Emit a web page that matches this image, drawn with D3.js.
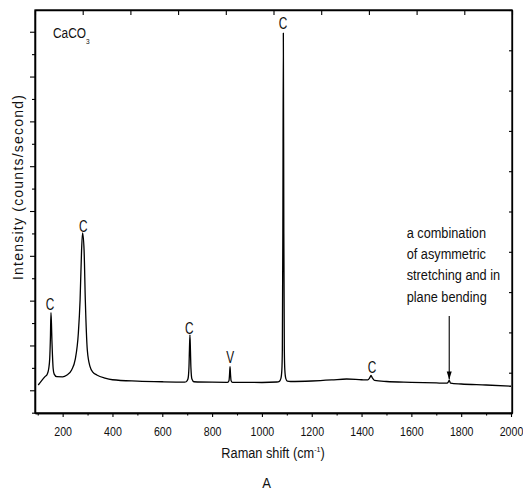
<!DOCTYPE html>
<html><head><meta charset="utf-8">
<script src="https://cdn.jsdelivr.net/npm/d3@7"></script>
<style>
body{margin:0;background:#fff;}
svg text{font-family:"Liberation Sans Narrow","Arial Narrow","Liberation Sans",Arial,sans-serif;fill:#111;}
</style></head><body>
<svg id="c" width="523" height="491"></svg>
<script>
// Raman spectrum of CaCO3 (arbitrary intensity units)
const shift = [102,115,129,138,144,148,151,153,155,157,159,162,166,176,200,216,236,250,263,270,276,280,286,291,299,310,322,337,370,400,500,600,690,
  696,703,707,709,711,713,715,719,727,800,862,868,870,872,874,876,882,1000,1060,1070,1076,1080,1082,1084,1086,1088,1090,1092,1096,1102,1115,
  1200,1280,1340,1400,1425,1433,1438,1443,1452,1500,1600,1700,1740,1747,1752,1757,1800,1900,2000];
const intensity = [118,210,303,360,480,700,1200,1731,1500,1100,800,480,360,303,300,335,453,676,1272,2014,3130,3510,3130,2014,900,527,400,341,270,235,205,190,183,
  190,250,500,900,1235,900,500,250,190,180,178,220,350,526,350,220,175,174,185,200,260,450,900,3500,7971,3500,900,450,260,205,196,
  207,230,252,235,230,280,330,280,220,196,178,163,158,175,220,160,140,118,90];

const xTickValues = [200,400,600,800,1000,1200,1400,1600,1800,2000];
const xMinorValues = [100,300,500,700,900,1100,1300,1500,1700,1900];
const yMajorValues = [0,1000,2000,3000,4000,5000,6000,7000,8000];
const yMinorValues = [-500,500,1500,2500,3500,4500,5500,6500,7500];

const peakLabels = ["C","C","C","V","C","C"];
const peakLabelX = [149,283,708,873,1085,1442];
const peakLabelY = [1791,3526,1256,602,8054,393];

const noteLines = [" a combination","of asymmetric","stretching and in","plane bending"];
const noteX = 1581, noteY = 3391;
const arrowX = 1752, arrowTop = 1658, arrowBottom = 241;

const L = 35, R = 512, T = 10, B = 413;
const svg = d3.select("#c");
const x = d3.scaleLinear().domain([89, 2004]).range([L, R]);
const y = d3.scaleLinear().domain([-507, 8485]).range([B, T]);
const xTop = d3.scaleLinear().domain([0, 10]).range([L, R]);
const yRight = d3.scaleLinear().domain([0, 10]).range([B, T]);

// place a horizontally condensed text
function ctext(px, py, s, size, anchor) {
  return svg.append("text").attr("transform",`translate(${px},${py}) scale(${s},1)`)
    .attr("font-size",size).attr("text-anchor",anchor||"start");
}

// bottom
const gB = svg.append("g").attr("transform",`translate(0,${B})`)
  .call(d3.axisBottom(x).tickValues(xTickValues).tickSize(4).tickSizeOuter(0).tickPadding(10).tickFormat(d3.format("d")));
svg.append("g").attr("transform",`translate(0,${B})`)
  .call(d3.axisBottom(x).tickValues(xMinorValues).tickSize(2.5).tickSizeOuter(0).tickFormat(""));
// left
svg.append("g").attr("transform",`translate(${L},0)`)
  .call(d3.axisLeft(y).tickValues(yMajorValues).tickSize(5).tickSizeOuter(0).tickFormat(""));
svg.append("g").attr("transform",`translate(${L},0)`)
  .call(d3.axisLeft(y).tickValues(yMinorValues).tickSize(3).tickSizeOuter(0).tickFormat(""));
// top (inward)
svg.append("g").attr("transform",`translate(0,${T})`)
  .call(d3.axisTop(xTop).ticks(10).tickSize(-5).tickSizeOuter(0).tickFormat(""));
// right (inward)
svg.append("g").attr("transform",`translate(${R},0)`)
  .call(d3.axisRight(yRight).ticks(10).tickSize(-3).tickSizeOuter(0).tickFormat(""));

svg.selectAll(".domain").attr("stroke","#000").attr("stroke-width",1.3);
svg.selectAll(".tick line").attr("stroke","#000").attr("stroke-width",1.1);
gB.selectAll(".tick text").attr("font-size",12.5).attr("font-family",null).attr("fill","#111")
  .attr("transform","scale(0.85,1)");

// frame
svg.append("rect").attr("x",L).attr("y",T).attr("width",R-L).attr("height",B-T)
  .attr("fill","none").attr("stroke","#000").attr("stroke-width",1.3);

// spectrum
const data = shift.map((s,i)=>[s,intensity[i]]);
svg.append("path").datum(data)
  .attr("fill","none").attr("stroke","#000").attr("stroke-width",1.3).attr("stroke-linejoin","round")
  .attr("d", d3.line().x(d=>x(d[0])).y(d=>y(d[1])).curve(d3.curveMonotoneX));

// peak labels
peakLabels.forEach((t,i)=>ctext(x(peakLabelX[i]), y(peakLabelY[i]), 0.74, 16, "middle").text(t));

// annotation
const nt = ctext(x(noteX), y(noteY), 0.88, 14.5);
noteLines.forEach((t,i)=>nt.append("tspan").attr("x",0).attr("dy",i===0?0:21.1).text(t));
svg.append("line").attr("x1",x(arrowX)).attr("x2",x(arrowX)).attr("y1",y(arrowTop)).attr("y2",y(arrowBottom))
  .attr("stroke","#000").attr("stroke-width",1.1);
svg.append("path").attr("fill","#000")
  .attr("d",`M${x(arrowX)-2.5},${y(arrowBottom)-8} L${x(arrowX)},${y(arrowBottom)} L${x(arrowX)+2.5},${y(arrowBottom)-8} Z`);

// CaCO3
const cc = ctext(53, 38.3, 0.82, 14.5);
cc.append("tspan").text("CaCO");
cc.append("tspan").attr("font-size",8).attr("dy",5.5).text("3");

// axis titles
const xt = ctext(273, 458, 0.88, 14.5, "middle");
xt.append("tspan").text("Raman shift (cm");
xt.append("tspan").attr("font-size",8).attr("dy",-6).text("-1");
xt.append("tspan").attr("dy",6).text(")");
ctext(266.7, 487.5, 0.9, 14.5, "middle").text("A");
svg.append("text").attr("transform","translate(22.5,187.5) rotate(-90)").attr("text-anchor","middle")
  .attr("font-size",14).attr("textLength",185).attr("lengthAdjust","spacing").text("Intensity (counts/second)");
</script></body></html>
